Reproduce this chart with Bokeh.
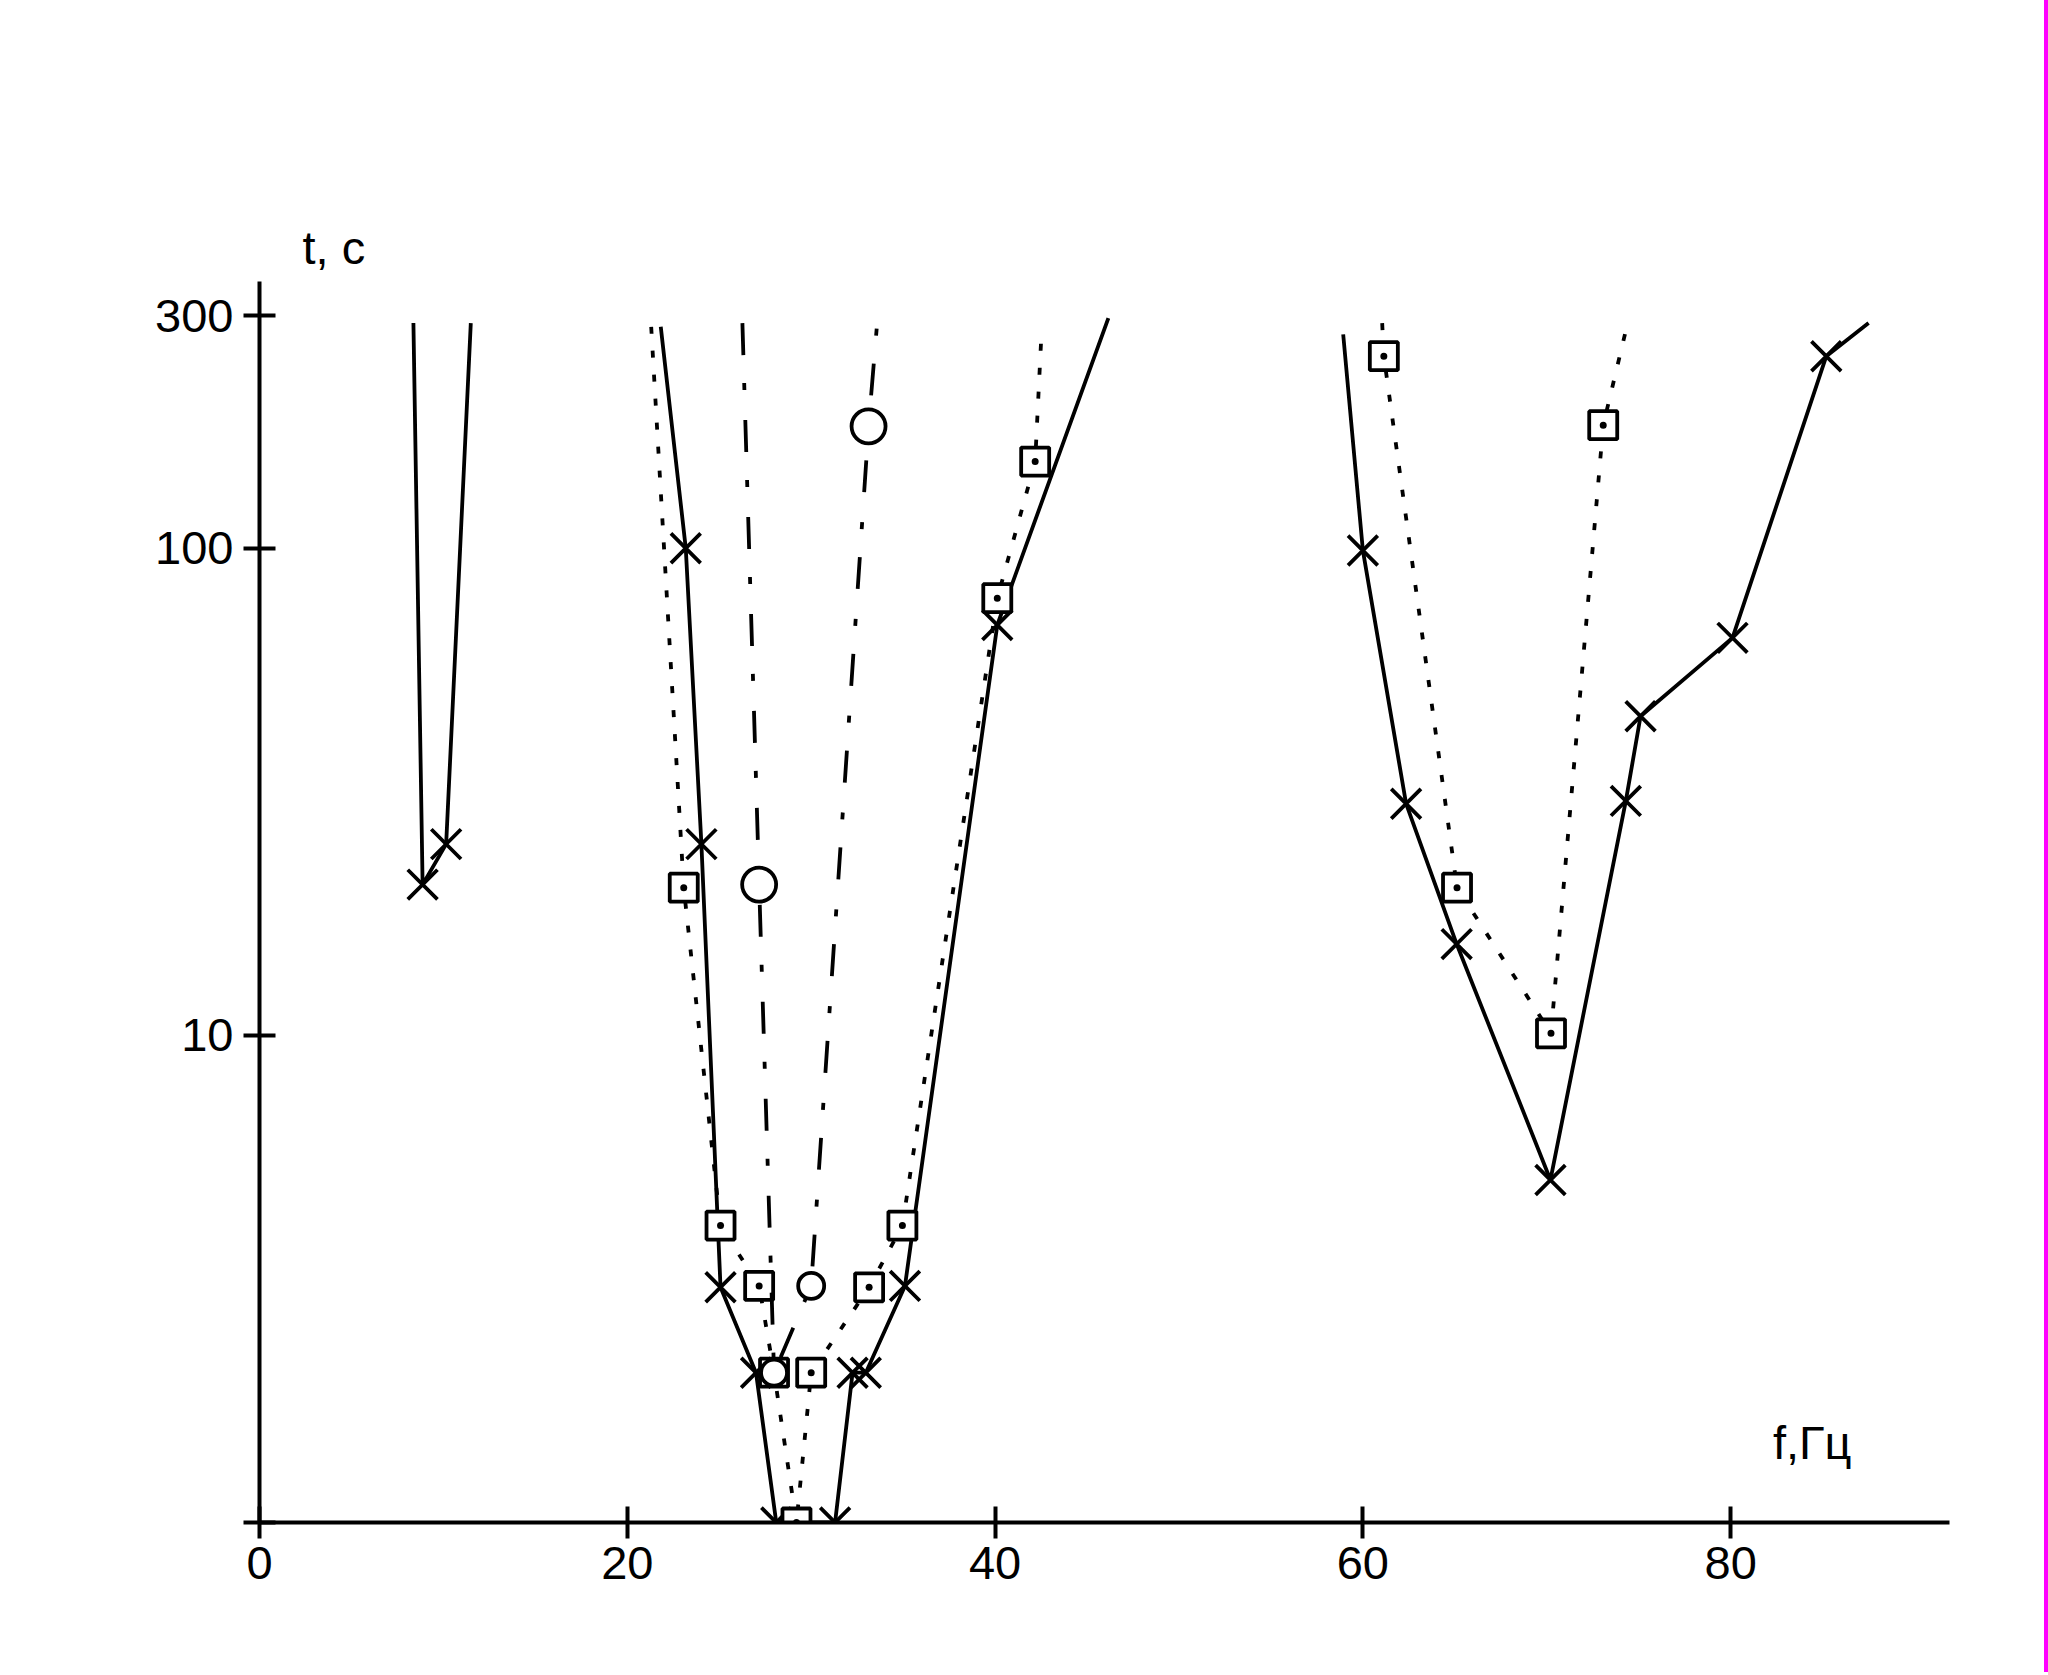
from bokeh.plotting import figure
from bokeh.models import Range1d, FixedTicker, Label, Div, PrintfTickFormatter, Title
from bokeh.layouts import row
from bokeh.embed import file_html
from bokeh.resources import INLINE

# ---------------- data ----------------
# left narrow V (solid, x markers); first/last points are where the curve leaves the plot
left_f = [8.37, 8.87, 10.15, 11.49]
left_t = [290, 20.4, 24.7, 290]

# central V, solid line with x markers
cx_f = [21.82, 23.18, 24.03, 25.07, 27.0, 28.1, 31.3, 32.25, 32.97, 35.1, 40.12, 46.16]
cx_t = [285, 100, 24.7, 3.04, 2.03, 1.0, 1.0, 2.03, 2.03, 3.06, 69.6, 297]

# central V, dotted line with box markers
cb_f = [21.3, 23.07, 25.07, 27.17, 27.98, 29.2, 30.0, 33.15, 34.96, 40.12, 42.18, 42.54]
cb_t = [285, 20.1, 4.07, 3.06, 2.03, 1.0, 2.03, 3.04, 4.07, 79, 150.7, 285]

# central V, dash-dot line with circle markers
cc_f = [26.26, 27.17, 27.98, 30.0, 33.12, 33.57]
cc_t = [290, 20.4, 2.03, 3.06, 178, 285]

# right V, solid line with x markers
rx_f = [58.93, 60.0, 62.35, 65.1, 70.2, 74.3, 75.1, 80.1, 85.2, 87.5]
rx_t = [275, 99, 29.9, 15.4, 5.05, 30.3, 45.2, 65.5, 248, 290]

# right V, dotted line with box markers
rb_f = [61.05, 61.14, 65.12, 70.23, 73.07, 74.3]
rb_t = [290, 248, 20.1, 10.1, 179, 280]

x_ticks = [0, 20, 40, 60, 80]
y_ticks = [1, 10, 100, 300]
x_title = "f,Гц"
y_title = "t, c"

# ---------------- styling ----------------
FONT = "Liberation Sans"
FS = "47px"
LW = 3.8

p = figure(width=2044, height=1672, output_backend="svg", toolbar_location=None,
           y_axis_type="log", x_range=Range1d(0, 91.9), y_range=Range1d(1, 353),
           min_border_left=259, min_border_right=95, min_border_top=281, min_border_bottom=150)
p.outline_line_color = None
p.xgrid.visible = False
p.ygrid.visible = False
p.background_fill_color = "white"
p.border_fill_color = "white"

for ax in (p.xaxis[0], p.yaxis[0]):
    ax.axis_line_width = 4
    ax.axis_line_color = "black"
    ax.major_tick_line_width = 4
    ax.major_tick_line_color = "black"
    ax.major_tick_in = 16
    ax.major_tick_out = 16
    ax.minor_tick_line_color = None
    ax.major_label_text_font = FONT
    ax.major_label_text_font_size = FS
    ax.major_label_text_color = "black"

p.xaxis.ticker = FixedTicker(ticks=x_ticks)
p.xaxis.major_label_standoff = 8
p.yaxis.ticker = FixedTicker(ticks=y_ticks)
p.yaxis.formatter = PrintfTickFormatter(format="%d")
p.yaxis.major_label_overrides = {1: ""}
p.yaxis.major_label_standoff = 10

DOT = "7 17"
DASHDOT = "32 28 7 30"

def trace(fs, ts, dash, marker, size, big=None, big_size=None):
    p.line(fs, ts, line_color="black", line_width=LW, line_dash=dash)
    mf, mt = fs[1:-1], ts[1:-1]
    sizes = [size] * len(mf)
    if big:
        for i in big:
            sizes[i] = big_size
    p.scatter(mf, mt, marker=marker, size=sizes, line_color="black", line_width=LW,
              fill_color="white")

trace(left_f, left_t, "solid", "x", 42)
trace(cx_f, cx_t, "solid", "x", 42)
trace(cb_f, cb_t, DOT, "square_dot", 28)
trace(cc_f, cc_t, DASHDOT, "circle", 26, big=[0, 3], big_size=34)
trace(rx_f, rx_t, "solid", "x", 42)
trace(rb_f, rb_t, DOT, "square_dot", 28)

p.add_layout(Label(x=82.3, y=1.46, text=x_title, text_font=FONT, text_font_size=FS,
                   text_color="black", text_baseline="alphabetic", text_align="left"))
p.add_layout(Title(text=y_title, align="left", offset=43, text_font=FONT,
                   text_font_size=FS, text_font_style="normal", text_color="black",
                   standoff=16), "above")

bar = Div(text="", width=4, height=1672, margin=0,
          styles={"background-color": "#ff00ff"})
layout = row(p, bar, spacing=0)

open("out.html", "w").write(file_html(layout, INLINE))
